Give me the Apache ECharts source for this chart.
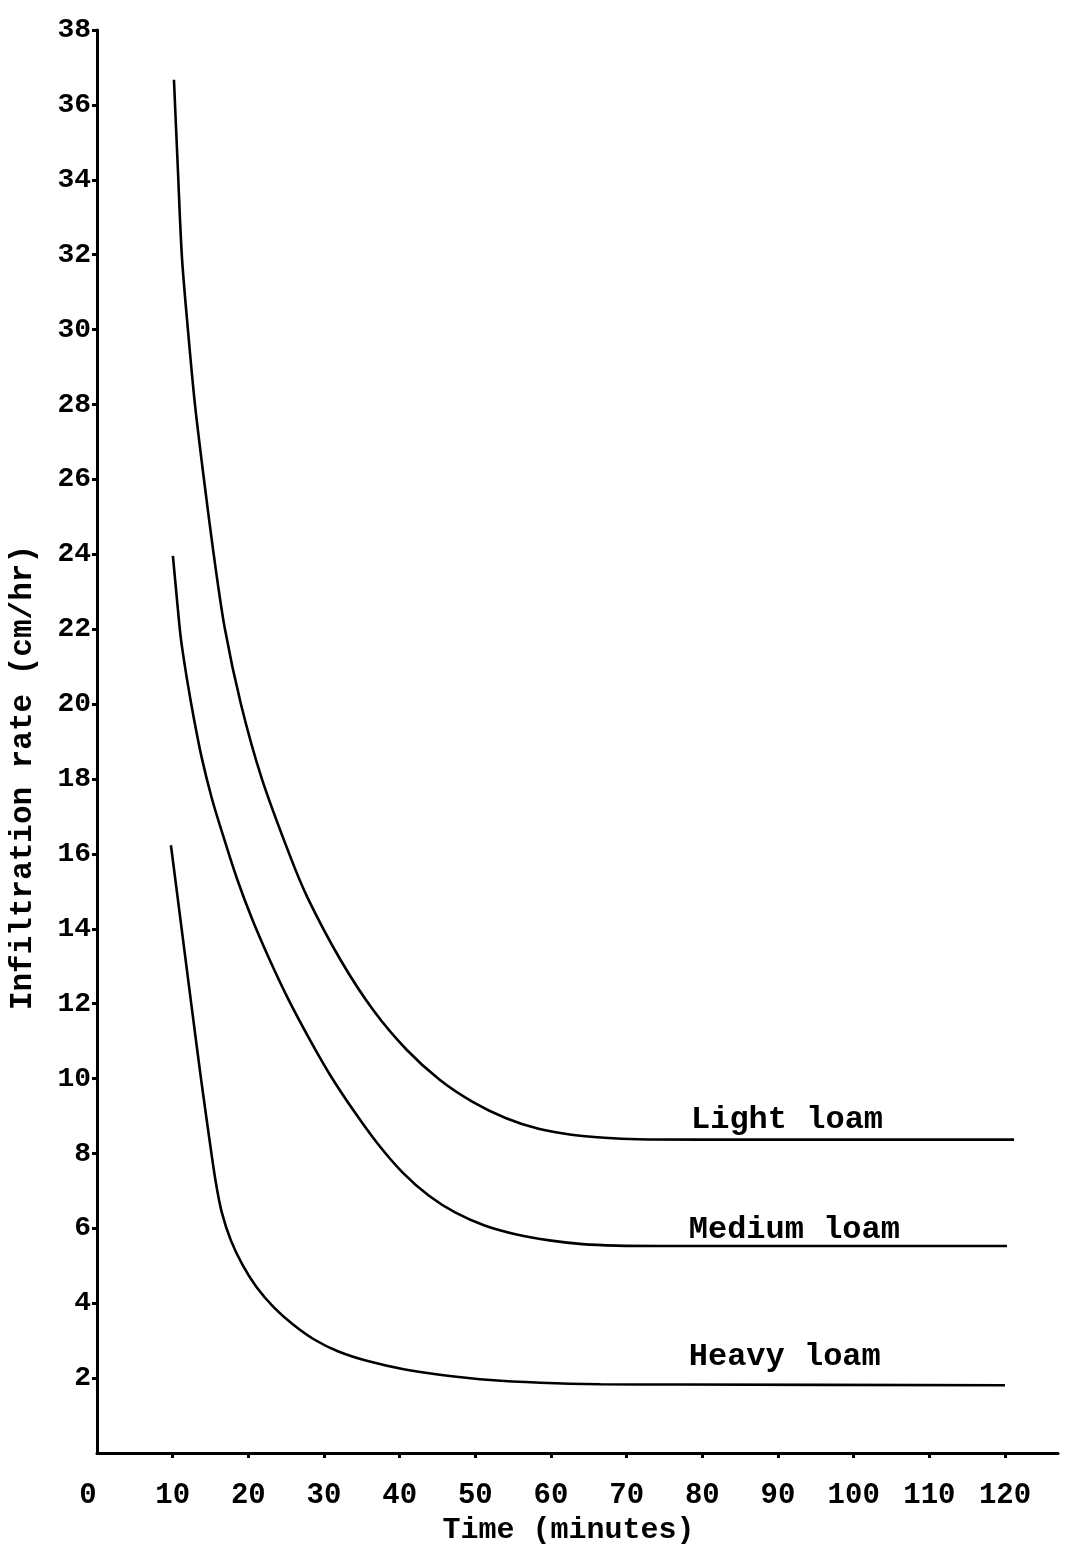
<!DOCTYPE html>
<html>
<head>
<meta charset="utf-8">
<title>Infiltration rate vs time</title>
<script src="https://cdn.jsdelivr.net/npm/echarts@6/dist/echarts.min.js"></script>
<style>
  html, body { margin: 0; padding: 0; background: #fff; }
  #chart { width: 1073px; height: 1550px; }
</style>
</head>
<body>
<div id="chart"></div>
<script>
// Infiltration rate (cm/hr) against time (minutes) for three loam soils
const seriesNames = ['Light loam', 'Medium loam', 'Heavy loam'];

const lightLoam = [
  [10.17, 36.67], [10.69, 34.27], [11.22, 31.95], [12.01, 30.01], [12.94, 28.01],
  [14.13, 26.01], [15.45, 23.96], [16.90, 22.01], [19.01, 20.01], [21.78, 18.01],
  [25.48, 15.96], [27.85, 14.82], [32.21, 13.16], [36.57, 11.81], [40.92, 10.77],
  [45.28, 9.97], [49.64, 9.38], [53.99, 8.95], [58.35, 8.66], [62.71, 8.50],
  [67.06, 8.42], [71.42, 8.38], [79.74, 8.37], [121.19, 8.37]
];

const mediumLoam = [
  [10.03, 23.96], [10.56, 22.81], [11.09, 21.74], [11.88, 20.68], [12.81, 19.61],
  [13.86, 18.55], [15.18, 17.48], [16.77, 16.42], [18.48, 15.35], [20.46, 14.28],
  [22.71, 13.22], [25.21, 12.15], [27.99, 11.09], [30.89, 10.07], [33.93, 9.14],
  [37.10, 8.26], [40.40, 7.49], [43.83, 6.88], [47.39, 6.42], [51.22, 6.08],
  [55.45, 5.84], [59.80, 5.68], [64.16, 5.58], [68.65, 5.54], [74.46, 5.53],
  [79.74, 5.53], [120.26, 5.53]
];

const heavyLoam = [
  [9.77, 16.23], [11.09, 14.15], [12.41, 12.07], [13.73, 10.02], [14.92, 8.29],
  [15.71, 7.22], [16.50, 6.42], [17.69, 5.68], [19.27, 5.01], [21.12, 4.42],
  [23.37, 3.89], [25.87, 3.44], [28.65, 3.04], [31.82, 2.72], [35.91, 2.45],
  [40.53, 2.24], [45.81, 2.08], [52.01, 1.95], [58.61, 1.88], [66.53, 1.84],
  [77.10, 1.83], [120.0, 1.81]
];

const xTickValues = [10, 20, 30, 40, 50, 60, 70, 80, 90, 100, 110, 120];
const xLabelValues = [0, 10, 20, 30, 40, 50, 60, 70, 80, 90, 100, 110, 120];
const yTickValues = [2, 4, 6, 8, 10, 12, 14, 16, 18, 20, 22, 24, 26, 28, 30, 32, 34, 36, 38];

// where each curve's name is written (x position, vertical offset above the line)
const nameX = [78.5, 78.2, 78.2];
const nameLift = [-4, 0, -12];

const FONT = '"Liberation Mono", "DejaVu Sans Mono", monospace';
const INK = '#000';

const chart = echarts.init(document.getElementById('chart'), null, { renderer: 'canvas' });

const curves = [lightLoam, mediumLoam, heavyLoam];

const series = curves.map((data, i) => ({
  name: seriesNames[i],
  type: 'line',
  data: data,
  smooth: 0.3,
  showSymbol: false,
  symbol: 'none',
  silent: true,
  lineStyle: { color: INK, width: 2.6 },
  markPoint: {
    silent: true,
    symbol: 'circle',
    symbolSize: 0,
    data: [{
      coord: [nameX[i], data[data.length - 1][1]],
      label: {
        show: true,
        formatter: seriesNames[i],
        position: [0, 0],
        align: 'left',
        verticalAlign: 'bottom',
        offset: [0, nameLift[i]],
        fontFamily: FONT,
        fontWeight: 'bold',
        fontSize: 32,
        color: INK
      }
    }]
  }
}));

chart.setOption({
  backgroundColor: '#fff',
  animation: false,
  grid: { left: 96, right: 15, top: 30, bottom: 94, containLabel: false },
  xAxis: {
    type: 'value',
    min: 0,
    max: 127,
    interval: 10,
    name: 'Time (minutes)',
    nameLocation: 'middle',
    nameGap: 60,
    nameTextStyle: {
      fontFamily: FONT, fontWeight: 'bold', fontSize: 30, color: INK,
      padding: [0, 18, 0, 0]
    },
    splitLine: { show: false },
    axisLine: { show: true, onZero: false, lineStyle: { color: INK, width: 3 } },
    axisTick: {
      show: true, inside: false, length: 5,
      customValues: xTickValues,
      lineStyle: { color: INK, width: 3 }
    },
    axisLabel: {
      customValues: xLabelValues,
      margin: 28,
      fontFamily: FONT, fontWeight: 'bold', fontSize: 29, color: INK,
      formatter: v => (v === 0 ? '{z|0}' : String(v)),
      rich: {
        z: { fontFamily: FONT, fontWeight: 'bold', fontSize: 29, color: INK, padding: [0, 18, 0, 0] }
      }
    }
  },
  yAxis: {
    type: 'value',
    min: 0,
    max: 38,
    interval: 2,
    name: 'Infiltration rate (cm/hr)',
    nameLocation: 'middle',
    nameGap: 58,
    nameTextStyle: {
      fontFamily: FONT, fontWeight: 'bold', fontSize: 31, color: INK,
      padding: [0, 72, 0, 0]
    },
    splitLine: { show: false },
    axisLine: { show: true, onZero: false, lineStyle: { color: INK, width: 3 } },
    axisTick: {
      show: true, inside: false, length: 5,
      customValues: yTickValues,
      lineStyle: { color: INK, width: 3 }
    },
    axisLabel: {
      customValues: yTickValues,
      margin: 6,
      fontFamily: FONT, fontWeight: 'bold', fontSize: 28, color: INK
    }
  },
  series: series
});
</script>
</body>
</html>
